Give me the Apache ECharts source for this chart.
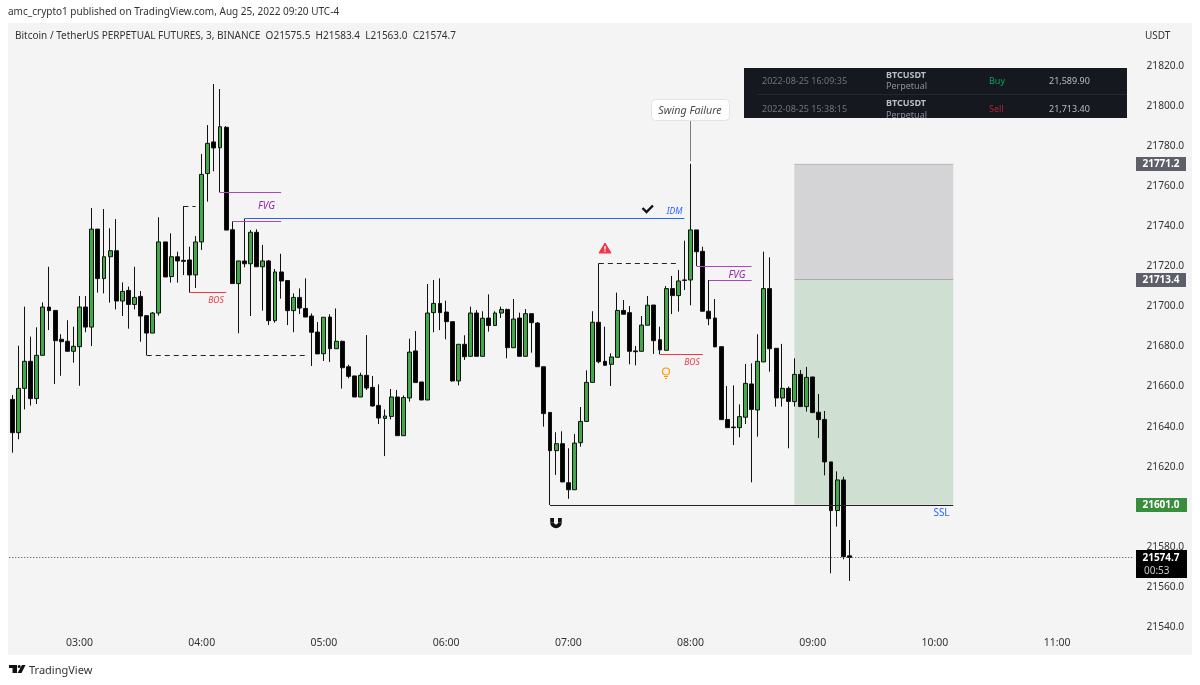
<!DOCTYPE html>
<html>
<head>
<meta charset="utf-8">
<title>BTCUSDT 3m</title>
<script src="https://cdn.jsdelivr.net/npm/echarts@6/dist/echarts.min.js"></script>
<style>html,body{margin:0;padding:0;background:#fff}#c{width:1200px;height:685px}</style>
</head>
<body>
<div id="c"></div>
<script>
const opens = [
21653.6,21637.0,21659.1,21672.6,21654.0,21675.6,21699.7,21698.0,21683.6,21682.6,
21677.6,21679.9,21699.7,21689.7,21738.6,21713.9,21724.8,21727.8,21702.7,21708.0,
21701.0,21705.0,21695.4,21686.7,21696.7,21732.2,21714.9,21724.8,21723.0,21723.2,
21715.7,21732.2,21766.3,21782.1,21779.2,21789.4,21738.3,21711.4,21722.7,21721.3,
21737.0,21719.8,21722.7,21692.9,21717.2,21712.9,21697.9,21704.5,21699.0,21695.2,
21687.2,21676.4,21694.7,21678.9,21682.6,21669.9,21665.3,21654.8,21665.6,21659.6,
21650.6,21644.1,21645.1,21654.8,21635.5,21654.3,21677.8,21662.3,21653.3,21696.9,
21701.5,21697.2,21692.4,21662.8,21681.1,21675.1,21696.7,21675.1,21694.2,21690.5,
21696.7,21698.5,21679.4,21694.2,21675.1,21696.4,21691.7,21669.9,21647.1,21628.0,
21631.5,21612.0,21608.5,21632.0,21642.6,21662.1,21692.1,21672.6,21671.1,21674.6,
21698.0,21696.9,21677.8,21677.6,21690.6,21700.7,21683.4,21678.1,21708.9,21705.4,
21713.2,21713.2,21738.2,21727.5,21697.6,21694.2,21679.9,21643.6,21639.8,21639.5,
21644.7,21661.3,21648.3,21672.3,21708.9,21679.1,21654.3,21659.1,21652.5,21666.1,
21650.0,21664.8,21647.2,21643.6,21622.4,21598.1,21613.4,21575.5];
const closes = [
21637.0,21659.1,21672.6,21654.0,21675.6,21699.7,21697.9,21682.9,21682.4,21677.6,
21680.1,21699.7,21689.7,21738.6,21713.9,21724.8,21727.8,21702.7,21707.5,21701.0,
21704.5,21695.2,21686.7,21696.7,21732.2,21714.7,21724.8,21722.7,21722.5,21715.7,
21732.2,21765.9,21781.4,21779.1,21789.7,21738.1,21711.4,21722.7,21721.3,21737.0,
21719.8,21722.7,21692.9,21717.2,21712.7,21697.9,21704.5,21699.2,21694.7,21687.1,
21676.3,21694.6,21678.9,21682.6,21669.4,21665.1,21654.8,21665.6,21659.3,21650.3,
21644.3,21645.3,21654.8,21635.5,21654.5,21677.2,21662.0,21653.3,21696.7,21701.5,
21696.9,21692.4,21662.8,21681.1,21674.9,21696.7,21675.1,21694.1,21690.5,21696.7,
21698.5,21679.4,21693.7,21675.1,21696.4,21691.9,21669.9,21646.5,21628.0,21631.5,
21612.4,21608.5,21631.8,21642.6,21662.1,21692.1,21672.4,21670.6,21674.8,21698.0,
21696.1,21677.6,21677.4,21690.7,21700.6,21682.9,21678.3,21708.9,21705.4,21712.7,
21713.0,21738.2,21727.3,21697.6,21693.9,21679.8,21643.5,21639.5,21639.5,21645.0,
21661.6,21648.6,21672.6,21708.9,21678.9,21654.3,21659.1,21652.6,21666.1,21650.0,
21664.6,21647.0,21643.5,21622.4,21598.1,21613.4,21575.1,21574.7];
const highs = [
21655.8,21680.4,21699.9,21684.9,21689.6,21702.0,21719.8,21698.0,21686.1,21693.1,
21689.9,21705.2,21705.2,21749.1,21738.6,21748.6,21739.0,21743.6,21712.0,21709.9,
21719.8,21707.7,21695.4,21697.2,21744.5,21732.2,21736.5,21727.3,21750.1,21729.8,
21735.1,21776.1,21790.5,21811.0,21808.5,21790.0,21742.5,21722.7,21743.8,21738.1,
21738.5,21730.7,21723.2,21718.7,21726.3,21712.9,21706.5,21709.0,21714.0,21696.5,
21692.2,21694.6,21696.1,21699.0,21682.9,21670.9,21665.3,21666.9,21685.7,21665.3,
21661.1,21648.6,21658.8,21658.3,21655.6,21683.9,21687.7,21662.3,21711.2,21713.2,
21714.0,21702.9,21692.4,21681.1,21685.6,21699.9,21698.2,21697.6,21706.0,21697.6,
21699.9,21698.9,21703.7,21696.9,21698.7,21696.4,21692.2,21669.9,21647.1,21637.2,
21637.7,21629.2,21636.3,21649.8,21668.1,21697.6,21721.5,21689.9,21676.6,21706.9,
21703.2,21700.2,21680.3,21695.2,21705.2,21700.7,21689.9,21710.2,21715.2,21718.2,
21732.8,21771.2,21738.2,21729.8,21713.2,21703.7,21679.9,21660.3,21660.6,21651.1,
21671.3,21671.6,21686.1,21727.3,21724.5,21679.1,21681.3,21660.0,21674.1,21668.3,
21669.8,21664.8,21656.3,21647.8,21622.4,21617.7,21615.0,21583.4];
const lows = [
21627.0,21633.7,21648.6,21650.5,21651.3,21675.6,21688.2,21661.3,21665.4,21677.6,
21671.9,21660.4,21687.1,21680.2,21706.9,21706.5,21701.9,21698.5,21695.2,21688.9,
21698.5,21682.4,21675.6,21686.7,21695.4,21714.7,21711.9,21711.9,21715.7,21706.9,
21709.2,21728.2,21752.3,21767.4,21756.9,21738.1,21711.4,21686.6,21719.5,21695.2,
21719.8,21697.9,21690.7,21691.9,21703.9,21690.7,21687.1,21696.2,21694.7,21670.3,
21676.3,21672.8,21672.3,21678.9,21659.0,21664.1,21654.8,21654.8,21658.3,21650.0,
21641.3,21625.3,21643.6,21635.5,21635.5,21652.5,21662.0,21653.3,21653.3,21687.1,
21688.2,21683.6,21662.5,21660.6,21673.3,21675.1,21675.1,21675.1,21687.4,21690.2,
21694.2,21674.1,21679.4,21675.1,21675.1,21676.9,21669.9,21640.0,21600.9,21615.9,
21612.4,21604.0,21608.5,21630.0,21642.6,21662.1,21671.6,21670.6,21660.3,21674.6,
21696.1,21671.1,21670.6,21677.6,21690.6,21676.3,21676.1,21678.1,21696.2,21697.4,
21708.2,21700.6,21720.2,21697.6,21690.6,21679.8,21643.5,21639.5,21630.8,21634.7,
21641.3,21612.2,21635.0,21672.3,21667.4,21650.0,21650.0,21629.2,21650.0,21650.0,
21647.5,21647.0,21634.3,21615.7,21566.8,21590.1,21573.8,21563.0];

const hourLabels = ['03:00','04:00','05:00','06:00','07:00','08:00','09:00','10:00','11:00'];
const firstHourIndex = 11;      // the bar that opens at 03:00
const barsPerHour = 20;
const slotCount = 184;
const lastPrice = 21574.7;
const stopPrice = 21771.2, entryPrice = 21713.4, targetPrice = 21601.0;

// [fromBar, toBar, price, colour, dash]
const levelLines = [
  [22, 48, 21675.6, '#222', [5, 4]],
  [28, 30, 21750.1, '#222', [5, 4]],
  [96, 109, 21721.5, '#222', [5, 4]],
  [29, 35, 21706.9, '#f23645', 'solid'],
  [106, 113, 21676.1, '#f23645', 'solid'],
  [34, 44, 21756.9, '#ab47bc', 'solid'],
  [36, 44, 21742.5, '#ab47bc', 'solid'],
  [112, 121, 21720.2, '#ab47bc', 'solid'],
  [114, 121, 21713.2, '#ab47bc', 'solid'],
  [38, 110, 21743.8, '#2962ff', 'solid'],
  [88, 154, 21601.0, '#222', 'solid']
];

const slots = Array.from({length: slotCount}, (_, i) => i);
const candleData = opens.map((o, i) => [o, closes[i], lows[i], highs[i]]);

const font = '"Noto Sans", sans-serif';
const txt = (x, y, text, o = {}) => ({
  type: 'text', x, y, silent: true, z: o.z || 10,
  style: {
    text, fill: o.fill || '#333', font: `${o.style || 'normal'} ${o.weight || 'normal'} ${o.size || 10}px ${font}`,
    textAlign: o.align || 'left', textVerticalAlign: 'middle'
  }
});
const box = (x, y, width, height, fill, o = {}) => ({
  type: 'rect', silent: true, z: o.z || 10, shape: {x, y, width, height, r: o.r || 0},
  style: {fill, stroke: o.stroke, lineWidth: o.stroke ? 1 : 0}
});

const chrome = [
  txt(8, 12, 'amc_crypto1 published on TradingView.com, Aug 25, 2022 09:20 UTC-4', {size: 10}),
  txt(15, 36, 'Bitcoin / TetherUS PERPETUAL FUTURES, 3, BINANCE  O21575.5  H21583.4  L21563.0  C21574.7', {size: 10}),
  txt(1145, 36, 'USDT', {size: 10}),

  box(744, 68, 383, 50, '#15181e', {z: 11}),
  box(757, 94, 370, 1, '#23272e', {z: 12}),
  txt(762, 81, '2022-08-25 16:09:35', {size: 9, fill: '#6f747c', z: 12}),
  txt(886, 75.5, 'BTCUSDT', {size: 9, weight: 'bold', fill: '#b7bdc6', z: 12}),
  txt(886, 86.5, 'Perpetual', {size: 9, fill: '#8a8f97', z: 12}),
  txt(989, 81, 'Buy', {size: 9, fill: '#0ba360', z: 12}),
  txt(1049, 81, '21,589.90', {size: 9, fill: '#b7bdc6', z: 12}),
  txt(762, 109, '2022-08-25 15:38:15', {size: 9, fill: '#6f747c', z: 12}),
  txt(886, 103.5, 'BTCUSDT', {size: 9, weight: 'bold', fill: '#b7bdc6', z: 12}),
  txt(886, 115, 'Perpetual', {size: 9, fill: '#8a8f97', z: 12}),
  txt(989, 109, 'Sell', {size: 9, fill: '#b3203a', z: 12}),
  txt(1049, 109, '21,713.40', {size: 9, fill: '#b7bdc6', z: 12}),
  box(744, 118, 383, 6, '#f4f4f4', {z: 13}),

  box(651.5, 99.5, 78, 21, '#fff', {r: 4, stroke: '#e0e3eb'}),
  txt(690, 110.5, 'Swing Failure', {size: 10.7, style: 'italic', align: 'center', fill: '#4a4a4a'}),
  txt(266.5, 206, 'FVG', {size: 10, style: 'italic', fill: '#9c27b0', align: 'center'}),
  txt(737, 275, 'FVG', {size: 10, style: 'italic', fill: '#9c27b0', align: 'center'}),
  txt(216, 300.5, 'BOS', {size: 8.5, style: 'italic', fill: '#f23645', align: 'center'}),
  txt(692, 362.5, 'BOS', {size: 8.5, style: 'italic', fill: '#f23645', align: 'center'}),
  txt(674.5, 211.5, 'IDM', {size: 8.5, style: 'italic', fill: '#2962ff', align: 'center'}),
  txt(941.5, 513.5, 'SSL', {size: 10, fill: '#2962ff', align: 'center'}),

  {type: 'polyline', silent: true, z: 10, shape: {points: [[642.5, 208], [646.5, 212], [653, 205.5]]},
    style: {stroke: '#111', lineWidth: 2.4, fill: 'none'}},
  {type: 'polygon', silent: true, z: 10, shape: {points: [[605, 243], [611, 253], [599, 253]]},
    style: {fill: '#f23645', stroke: '#f23645', lineWidth: 1, lineJoin: 'round'}},
  box(604.3, 246, 1.4, 3.6, '#fff'), box(604.3, 250.4, 1.4, 1.4, '#fff'),
  {type: 'circle', silent: true, z: 10, shape: {cx: 666, cy: 371.5, r: 3.5},
    style: {fill: 'none', stroke: '#ff9800', lineWidth: 1.2}},
  box(664, 376, 4, 1, '#ff9800'), box(665, 378, 2, 1, '#ff9800'),
  {type: 'arc', silent: true, z: 10, shape: {cx: 556, cy: 522.5, r: 3.9, startAngle: 0, endAngle: Math.PI, clockwise: true},
    style: {fill: 'none', stroke: '#111', lineWidth: 3.8}},
  box(550.2, 518, 3.8, 4.5, '#111'), box(558, 518, 3.8, 4.5, '#111'),

  box(1136, 157, 50, 14, '#5d606b'),
  txt(1161, 164.5, '21771.2', {weight: 'bold', fill: '#fff', align: 'center', size: 10}),
  box(1136, 273, 50, 14, '#5d606b'),
  txt(1161, 280.5, '21713.4', {weight: 'bold', fill: '#fff', align: 'center', size: 10}),
  box(1136, 498, 51, 14, '#388e3c'),
  txt(1161, 505.5, '21601.0', {weight: 'bold', fill: '#fff', align: 'center', size: 10}),
  box(1136, 550, 51, 28, '#000'),
  txt(1161, 558, '21574.7', {weight: 'bold', fill: '#fff', align: 'center', size: 10}),
  txt(1144, 571, '00:53', {fill: '#c8c8c8', size: 10}),

  box(9, 665, 8, 3, '#111'), box(12.5, 665, 4.5, 8, '#111'),
  {type: 'circle', silent: true, z: 10, shape: {cx: 19.2, cy: 666.5, r: 1.6}, style: {fill: '#111'}},
  {type: 'polygon', silent: true, z: 10, shape: {points: [[22, 665], [25.5, 665], [21.5, 673], [17.5, 673]]}, style: {fill: '#111'}},
  txt(29, 670.5, 'TradingView', {size: 11})
];

const chart = echarts.init(document.getElementById('c'), null, {renderer: 'canvas'});
chart.setOption({
  animation: false,
  backgroundColor: '#ffffff',
  graphic: [{type: 'rect', silent: true, z: -1, shape: {x: 8, y: 23, width: 1184, height: 632}, style: {fill: '#f4f4f4'}}, ...chrome],
  grid: {left: 9.25, top: 66, width: slotCount * 6.11, height: 561, containLabel: false},
  xAxis: {
    type: 'category', data: slots, boundaryGap: true,
    axisLine: {show: false}, axisTick: {show: false}, splitLine: {show: false},
    axisLabel: {
      interval: (i) => i >= firstHourIndex && (i - firstHourIndex) % barsPerHour === 0,
      formatter: (v) => hourLabels[(Number(v) - firstHourIndex) / barsPerHour] || '',
      color: '#333', fontSize: 10.5, fontFamily: font, margin: 11
    }
  },
  yAxis: {
    type: 'value', position: 'right', min: 21540, max: 21820, interval: 20,
    axisLine: {show: false}, axisTick: {show: false}, splitLine: {show: false},
    axisLabel: {color: '#333', fontSize: 10.2, fontFamily: font, margin: 13, padding: [2, 0, 0, 0], formatter: (v) => v.toFixed(1)}
  },
  series: [{
    type: 'candlestick', data: candleData, barWidth: 4.4, silent: true,
    itemStyle: {color: '#43a84a', color0: '#000', borderColor: '#111', borderColor0: '#111', borderWidth: 1},
    markArea: {
      silent: true,
      data: [
        [{coord: [128, stopPrice], itemStyle: {color: '#d4d4d6'}}, {coord: [154, entryPrice]}],
        [{coord: [128, entryPrice], itemStyle: {color: '#cfe0d2'}}, {coord: [154, targetPrice]}]
      ]
    },
    markLine: {
      silent: true, symbol: 'none', label: {show: false}, animation: false,
      data: [
        {yAxis: lastPrice, lineStyle: {color: '#444', type: [1, 2], width: 1}},
        [{coord: [111, 21772.5], lineStyle: {color: '#787b86', type: 'solid', width: 1}}, {coord: [111, 21792.5]}],
        [{coord: [128, stopPrice], lineStyle: {color: '#bdbdc0', type: 'solid', width: 1}}, {coord: [154, stopPrice]}],
        [{coord: [128, entryPrice], lineStyle: {color: '#a9a9ad', type: 'solid', width: 1}}, {coord: [154, entryPrice]}],
        ...levelLines.map(([a, b, p, color, type]) => [
          {coord: [a, p], lineStyle: {color, type, width: 1}}, {coord: [b, p]}
        ])
      ]
    }
  }]
});
</script>
</body>
</html>
